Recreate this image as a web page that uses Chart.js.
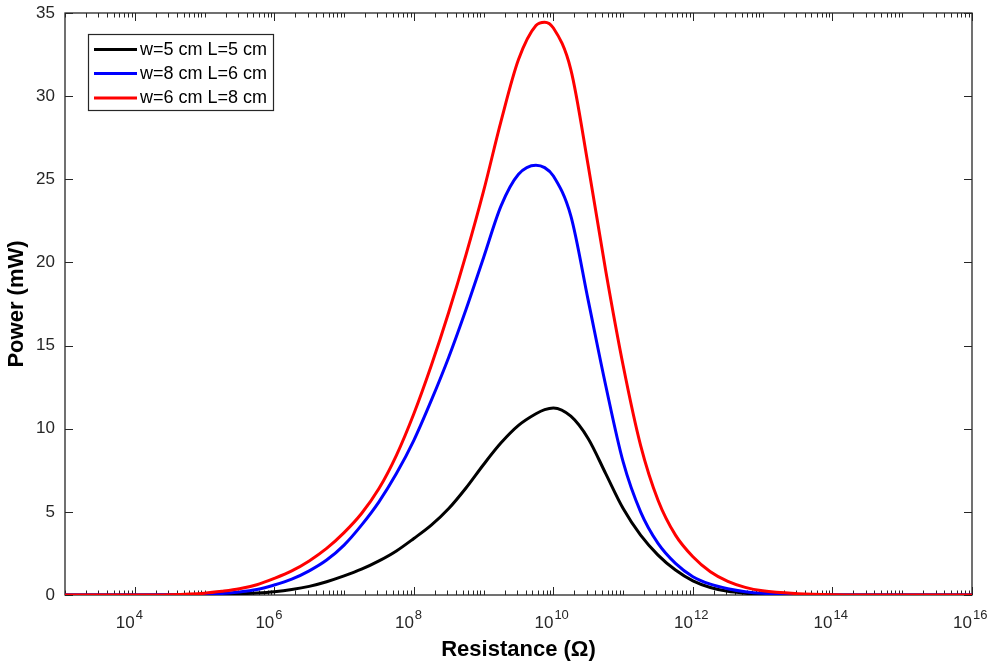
<!DOCTYPE html>
<html>
<head>
<meta charset="utf-8">
<script src="https://cdn.jsdelivr.net/npm/chart.js@4.4.1/dist/chart.umd.min.js"></script>
<style>
html,body{margin:0;padding:0;background:#fff;}
#wrap{width:992px;height:667px;position:relative;}
</style>
</head>
<body>
<div id="wrap"><canvas id="c" width="992" height="667"></canvas></div>
<script>
// log10 of resistance (Ohm) at which the curves were read
const logR = [3, 4, 4.5, 5, 5.25, 5.5, 5.75, 6, 6.25, 6.5, 6.75, 7, 7.25, 7.5, 7.75, 8, 8.25, 8.5, 8.75, 9,
              9.25, 9.5, 9.75, 9.875, 10, 10.25, 10.5, 10.75, 11, 11.25, 11.5, 11.75, 12, 12.25, 12.5, 12.75, 13, 13.5, 14, 15, 16];

// Power (mW)
const powerW5L5 = [0, 0, 0, 0.02, 0.04, 0.07, 0.12, 0.2, 0.33, 0.52, 0.8, 1.15, 1.55, 2.05, 2.65, 3.4, 4.2, 5.2, 6.45, 7.85,
                   9.15, 10.2, 10.9, 11.15, 11.25, 10.75, 9.4, 7.3, 5.2, 3.6, 2.4, 1.5, 0.85, 0.45, 0.22, 0.11, 0.05, 0.01, 0, 0, 0];
const powerW8L6 = [0, 0, 0.01, 0.04, 0.09, 0.18, 0.33, 0.6, 0.95, 1.45, 2.1, 3.0, 4.2, 5.6, 7.3, 9.3, 11.7, 14.3, 17.2, 20.3,
                   23.4, 25.3, 25.85, 25.7, 25.2, 22.8, 17.7, 12.6, 8.0, 5.0, 3.1, 1.9, 1.1, 0.65, 0.38, 0.2, 0.1, 0.03, 0, 0, 0];
const powerW6L8 = [0, 0, 0.02, 0.11, 0.22, 0.37, 0.62, 1.0, 1.45, 2.05, 2.8, 3.75, 4.9, 6.4, 8.4, 10.9, 13.8, 17.0, 20.5, 24.3,
                   28.5, 32.2, 34.25, 34.45, 34.1, 31.6, 25.8, 19.5, 13.8, 9.0, 5.7, 3.6, 2.3, 1.4, 0.82, 0.46, 0.25, 0.08, 0.02, 0, 0];

const seriesLabels = ['w=5 cm L=5 cm', 'w=8 cm L=6 cm', 'w=6 cm L=8 cm'];
const seriesColors = ['#000000', '#0000ff', '#ff0000'];

const xTickExponents = [4, 6, 8, 10, 12, 14, 16];
const yTickValues = [0, 5, 10, 15, 20, 25, 30, 35];

const resistance = logR.map(e => Math.pow(10, e));
const toPoints = vals => resistance.map((r, i) => ({x: r, y: vals[i]}));

const FONT = "'Liberation Sans', Arial, Helvetica, sans-serif";
const AXIS_COLOR = '#262626';

const framePlugin = {
  id: 'frame',
  beforeDatasetsDraw(chart) {
    const {ctx, chartArea: a, scales: {x, y}} = chart;
    ctx.save();
    ctx.strokeStyle = AXIS_COLOR;
    ctx.lineWidth = 1.3;
    ctx.strokeRect(a.left, a.top, a.right - a.left, a.bottom - a.top);
    ctx.beginPath();
    ctx.lineWidth = 1;
    yTickValues.forEach(v => {
      const p = Math.round(y.getPixelForValue(v)) + 0.5;
      ctx.moveTo(a.left, p); ctx.lineTo(a.left + 8, p);
      ctx.moveTo(a.right, p); ctx.lineTo(a.right - 8, p);
    });
    for (let n = 3; n <= 16; n++) {
      for (let k = 1; k <= 9; k++) {
        const v = k * Math.pow(10, n);
        if (v > 1e16 * 1.0001) break;
        const major = (k === 1 && xTickExponents.includes(n));
        const len = major ? 8 : 4.5;
        const p = Math.round(x.getPixelForValue(v)) + 0.5;
        ctx.moveTo(p, a.bottom); ctx.lineTo(p, a.bottom - len);
        ctx.moveTo(p, a.top); ctx.lineTo(p, a.top + len);
      }
    }
    ctx.stroke();
    // x tick labels: 10 with superscript exponent
    ctx.fillStyle = AXIS_COLOR;
    ctx.textBaseline = 'alphabetic';
    xTickExponents.forEach(e => {
      const p = x.getPixelForValue(Math.pow(10, e));
      ctx.font = '17px ' + FONT;
      ctx.textAlign = 'right';
      ctx.fillText('10', p, 628);
      ctx.font = '13px ' + FONT;
      ctx.textAlign = 'left';
      ctx.fillText(String(e), p + 1, 619);
    });
    ctx.restore();
  },
  afterDraw(chart) {
    const {ctx} = chart;
    ctx.save();
    const bx = 88, by = 34, bw = 185, bh = 76;
    ctx.fillStyle = '#ffffff';
    ctx.fillRect(bx, by, bw, bh);
    ctx.strokeStyle = AXIS_COLOR;
    ctx.lineWidth = 1.2;
    ctx.strokeRect(bx + 0.5, by + 0.5, bw, bh);
    const rows = [49.5, 73.5, 98];
    chart.data.datasets.forEach((ds, i) => {
      const yy = rows[i];
      ctx.strokeStyle = ds.borderColor;
      ctx.lineWidth = 3;
      ctx.beginPath();
      ctx.moveTo(94, yy); ctx.lineTo(137, yy);
      ctx.stroke();
      ctx.fillStyle = '#000';
      ctx.font = '18px ' + FONT;
      ctx.textAlign = 'left';
      ctx.textBaseline = 'middle';
      ctx.fillText(ds.label, 140, yy + 0.5);
    });
    ctx.restore();
  }
};

new Chart(document.getElementById('c'), {
  type: 'line',
  data: {
    datasets: [
      {label: seriesLabels[0], data: toPoints(powerW5L5), borderColor: seriesColors[0], backgroundColor: seriesColors[0], order: 2},
      {label: seriesLabels[1], data: toPoints(powerW8L6), borderColor: seriesColors[1], backgroundColor: seriesColors[1], order: 1},
      {label: seriesLabels[2], data: toPoints(powerW6L8), borderColor: seriesColors[2], backgroundColor: seriesColors[2], order: 0}
    ]
  },
  options: {
    responsive: false,
    animation: false,
    devicePixelRatio: 1,
    layout: {padding: {top: 13, right: 20, left: 0, bottom: 0}},
    elements: {
      point: {radius: 0, hoverRadius: 0},
      line: {borderWidth: 3, cubicInterpolationMode: 'monotone', fill: false, borderJoinStyle: 'round', borderCapStyle: 'round'}
    },
    plugins: {
      legend: {display: false},
      tooltip: {enabled: false}
    },
    scales: {
      x: {
        type: 'logarithmic',
        min: 1e3,
        max: 1e16,
        grid: {display: false, drawTicks: false},
        border: {display: false},
        ticks: {display: false},
        title: {display: true, text: 'Resistance (\u03A9)', color: '#000', font: {family: FONT, size: 22, weight: 'bold'}, padding: {top: 0, bottom: 4}},
        afterFit: s => { s.height = 72; s.paddingLeft = 0; s.paddingRight = 0; }
      },
      y: {
        type: 'linear',
        min: 0,
        max: 35,
        grid: {display: false, drawTicks: false},
        border: {display: false},
        ticks: {stepSize: 5, padding: 10, color: AXIS_COLOR, font: {family: FONT, size: 17}},
        title: {display: true, text: 'Power (mW)', color: '#000', font: {family: FONT, size: 22, weight: 'bold'}, padding: {top: 4, bottom: 0}},
        afterFit: s => { s.width = 65; s.paddingTop = 0; s.paddingBottom = 0; }
      }
    }
  },
  plugins: [framePlugin]
});
</script>
</body>
</html>
